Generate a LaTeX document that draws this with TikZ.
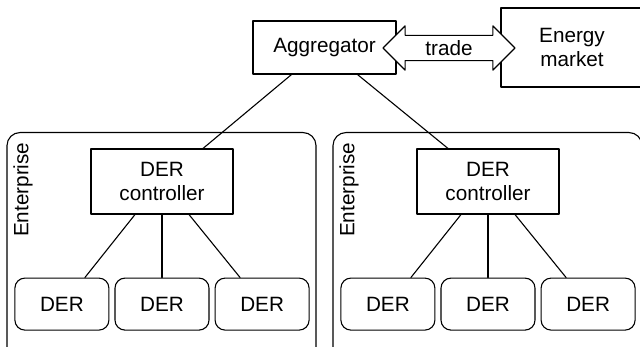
\documentclass[tikz,border=0pt]{standalone}
\usepackage{fontspec}
\setmainfont{Liberation Sans}
\usetikzlibrary{positioning}
\usetikzlibrary{shapes.arrows}

\begin{document}
\begin{tikzpicture}[x=1pt,y=1pt,line width=1.1pt,line cap=round,line join=round,
    every node/.style={font=\fontsize{20.7}{23.5}\selectfont,align=center},
    box/.style={draw,minimum width=143pt,minimum height=53pt,inner sep=2pt},
    derbox/.style={draw,rounded corners=10pt,minimum width=94pt,minimum height=52pt},
    entbox/.style={draw,rounded corners=13pt,minimum width=309pt,minimum height=228pt}]
        \clip (0,0) rectangle (640,347);
        % two enterprises, each a controller over three DERs
        \foreach \e/\x in {A/162,B/488} {
          \node[entbox,anchor=north] (ent\e) at (\x-0.5,215) {};
          \node[rotate=90,anchor=base east,inner sep=0pt] (lab\e) at ([shift={(22,-10)}]ent\e.north west) {Enterprise};
          \node[box,minimum width=142pt,minimum height=65pt] (ctrl\e) at (\x,165.5) {DER\\controller};
          \node[derbox,below=63pt of ctrl\e] (der\e2) {DER};
          \node[derbox,left=5pt of der\e2] (der\e1) {DER};
          \node[derbox,right=5pt of der\e2] (der\e3) {DER};
          \draw ([xshift=-27pt]ctrl\e.south) -- ([xshift=23pt]der\e1.north);
          \draw (ctrl\e.south) -- (der\e2.north);
          \draw ([xshift=27pt]ctrl\e.south) -- ([xshift=-22pt]der\e3.north);
        }
        \node[box] (agg) at (324.5,299.5) {Aggregator};
        \node[box,minimum width=142pt,minimum height=79pt] (mkt) at (572,299.5) {Energy\\market};
        \draw ([xshift=-33pt]agg.south) -- ([xshift=41pt]ctrlA.north);
        \draw ([xshift=33pt]agg.south) -- ([xshift=-40pt]ctrlB.north);
        % trade link on top of both boxes
        \node[double arrow,draw,fill=white,inner ysep=4.5pt,double arrow head extend=9.5pt,
              minimum height=132pt] (trade) at (449,299) {trade};
      \end{tikzpicture}
\end{document}
